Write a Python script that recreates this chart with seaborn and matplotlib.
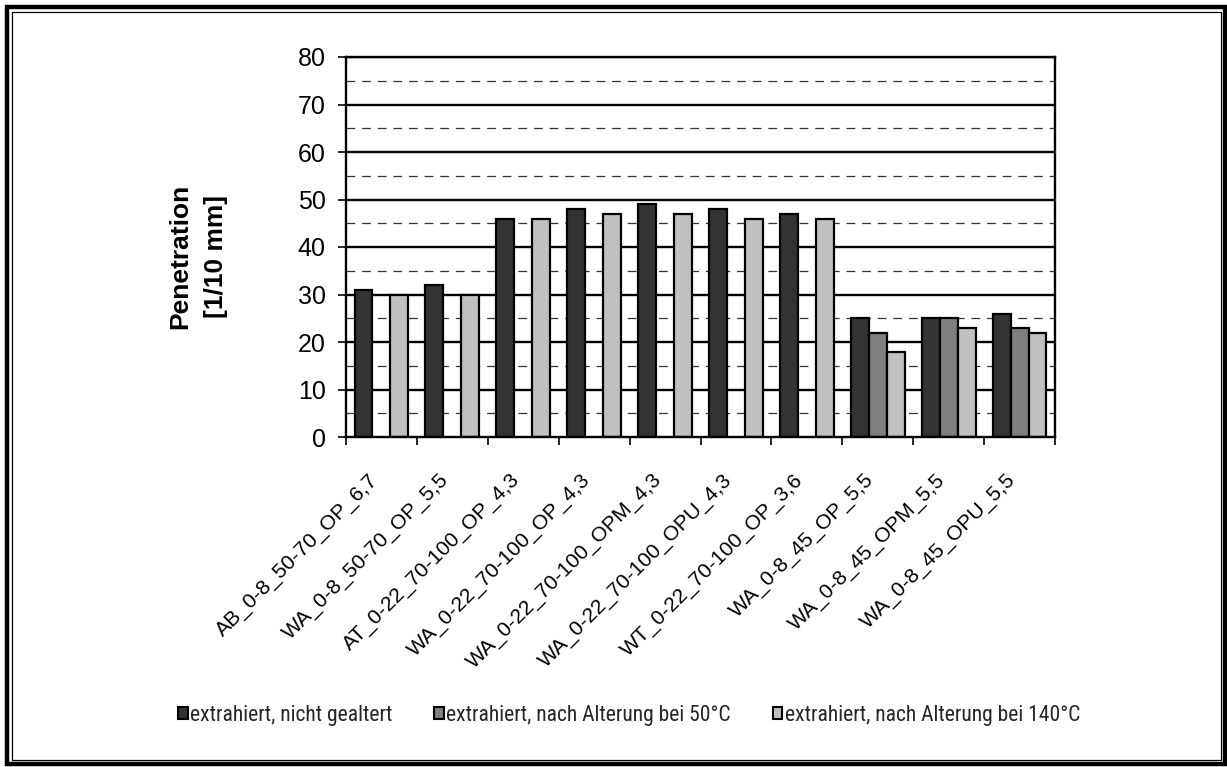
import numpy as np
import pandas as pd
import matplotlib
matplotlib.use("Agg")
import matplotlib.pyplot as plt
from matplotlib.patches import Rectangle, Patch
from matplotlib.ticker import MultipleLocator, FixedLocator
from matplotlib.font_manager import FontProperties, fontManager
import seaborn as sns

# --- data ---------------------------------------------------------------
probes = [
    "AB_0-8_50-70_OP_6,7",
    "WA_0-8_50-70_OP_5,5",
    "AT_0-22_70-100_OP_4,3",
    "WA_0-22_70-100_OP_4,3",
    "WA_0-22_70-100_OPM_4,3",
    "WA_0-22_70-100_OPU_4,3",
    "WT_0-22_70-100_OP_3,6",
    "WA_0-8_45_OP_5,5",
    "WA_0-8_45_OPM_5,5",
    "WA_0-8_45_OPU_5,5",
]
series = [
    "extrahiert, nicht gealtert",
    "extrahiert, nach Alterung bei 50°C",
    "extrahiert, nach Alterung bei 140°C",
]
nicht_gealtert = [31, 32, 46, 48, 49, 48, 47, 25, 25, 26]
alterung_50 = [np.nan, np.nan, np.nan, np.nan, np.nan, np.nan, np.nan, 22, 25, 23]
alterung_140 = [30, 30, 46, 47, 47, 46, 46, 18, 23, 22]
colors = ["#333333", "#808080", "#C0C0C0"]

df = pd.DataFrame({
    "Probe": probes * 3,
    "Serie": [series[0]] * len(probes) + [series[1]] * len(probes) + [series[2]] * len(probes),
    "Penetration": nicht_gealtert + alterung_50 + alterung_140,
}).dropna()

# --- style --------------------------------------------------------------
sns.set_theme(style="white")
plt.rcParams["font.family"] = ["Liberation Sans", "DejaVu Sans"]

W, H = 1227, 767
fig = plt.figure(figsize=(W / 100, H / 100), dpi=100)
fig.patch.set_facecolor("white")

ax = fig.add_axes([346 / W, 1 - 437 / H, (1055 - 346) / W, (437 - 57) / H])

sns.barplot(
    data=df, x="Probe", y="Penetration", hue="Serie",
    order=probes, hue_order=series, palette=colors,
    width=0.76, edgecolor="black", linewidth=1.6,
    errorbar=None, legend=False, ax=ax, zorder=3,
)

ax.set_xlim(-0.5, len(probes) - 0.5)
ax.set_ylim(0, 80)
ax.yaxis.set_major_locator(MultipleLocator(10))
ax.yaxis.set_minor_locator(MultipleLocator(5))

# major gridlines solid, minor dashed
ax.grid(False)
for v in np.arange(10, 81, 10):
    ax.axhline(v, color="black", lw=1.7, zorder=1)
for v in np.arange(5, 80, 10):
    ax.axhline(v, color="#333333", lw=0.9, dashes=(7, 5.5), zorder=1)

for side in ["left", "right", "top", "bottom"]:
    ax.spines[side].set_visible(True)
    ax.spines[side].set_color("black")
    ax.spines[side].set_linewidth(1.7)
    ax.spines[side].set_zorder(4)

ax.tick_params(axis="y", which="major", left=True, length=6, width=1.2,
               color="black", labelsize=18, pad=8.5, labelcolor="black")
ax.tick_params(axis="y", which="minor", left=False)

# category labels at centres, tick marks at category boundaries
ax.xaxis.set_major_locator(FixedLocator(range(len(probes))))
ax.xaxis.set_minor_locator(FixedLocator(np.arange(-0.5, len(probes), 1.0)))
ax.set_xticklabels(probes, rotation=45, ha="right", fontsize=15.2)
ax.tick_params(axis="x", which="major", bottom=True, length=0, pad=24, labelcolor="black")
ax.tick_params(axis="x", which="minor", bottom=True, length=6, width=1.2, color="black")

ax.set_xlabel("")
ax.set_ylabel("Penetration\n[1/10 mm]", fontsize=19, fontweight="bold",
              color="black", linespacing=1.6)
ax.yaxis.set_label_coords((228 - 346) / (1055 - 346), 1 - (256.5 - 57) / (437 - 57))

# legend below the chart, in a narrow face when one is installed
names = {f.name for f in fontManager.ttflist}
if "Liberation Sans Narrow" in names:
    legend_font = FontProperties(family="Liberation Sans Narrow", size=15.5)
elif "Roboto Condensed" in names:
    legend_font = FontProperties(family="Roboto Condensed", size=15.5)
elif any(f.name == "DejaVu Sans" and f.stretch == "condensed" for f in fontManager.ttflist):
    legend_font = FontProperties(family="DejaVu Sans", stretch="condensed", size=14)
else:
    legend_font = FontProperties(family="Liberation Sans", size=13.5)

handles = [Patch(facecolor=c, edgecolor="black", linewidth=1.5) for c in colors]
fig.legend(
    handles, series, loc="center", bbox_to_anchor=(629 / W, 1 - 715 / H),
    ncol=3, frameon=False, handlelength=0.45, handleheight=0.5,
    handletextpad=0.1, columnspacing=1.95, prop=legend_font,
)

# double frame around the whole figure
fig.add_artist(Rectangle((6.5 / W, 3.0 / H), (1224.5 - 6.5) / W, (H - 6.5 - 3.0) / H,
                         transform=fig.transFigure, fill=False,
                         edgecolor="black", lw=3.2, zorder=10))
fig.add_artist(Rectangle((11.5 / W, 7.0 / H), (1221 - 11.5) / W, (H - 11.5 - 7.0) / H,
                         transform=fig.transFigure, fill=False,
                         edgecolor="black", lw=0.9, zorder=10))

fig.savefig("out.png", dpi=100, facecolor="white")
